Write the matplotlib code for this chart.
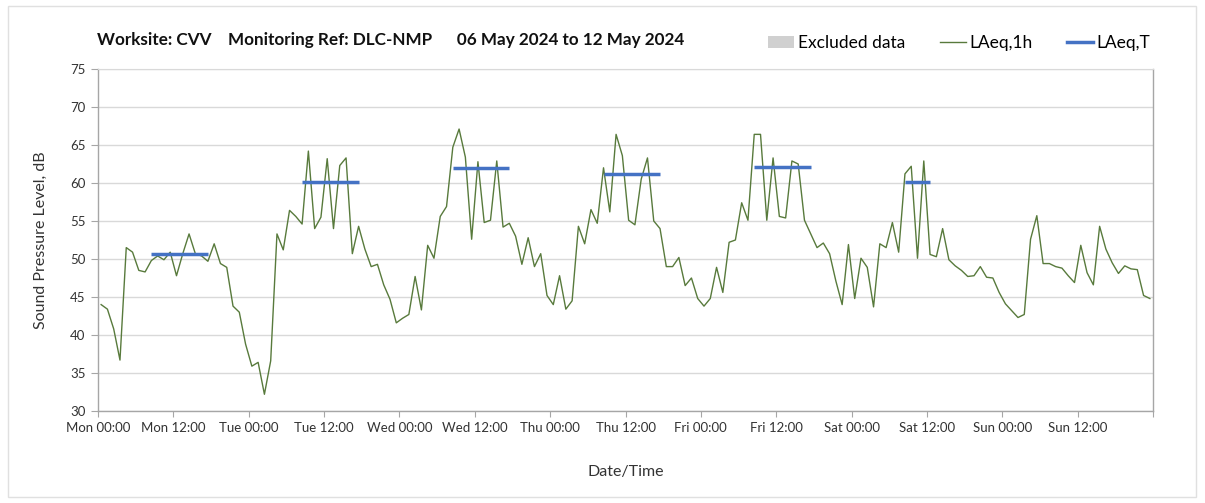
"""
 Weekly noise monitoring chart: hourly LAeq with daytime LAeq,T bars.
"""

import numpy as np
import matplotlib
matplotlib.use("Agg")
import matplotlib.pyplot as plt
from matplotlib.patches import Patch, Rectangle
from matplotlib.lines import Line2D

plt.rcParams['font.family'] = ['Lato', 'DejaVu Sans']

# hourly LAeq,1h values, Mon 00:00 .. Sun 23:00
laeq_mon = [44.0, 43.4, 40.8, 36.7, 51.5, 50.9, 48.5, 48.3, 49.8, 50.4, 49.9, 50.9,
            47.8, 50.7, 53.3, 50.7, 50.4, 49.7, 52.0, 49.4, 48.9, 43.8, 43.0, 38.8]
laeq_tue = [35.9, 36.4, 32.2, 36.6, 53.3, 51.2, 56.4, 55.6, 54.6, 64.2, 54.0, 55.5,
            63.2, 54.0, 62.3, 63.3, 50.7, 54.3, 51.3, 49.0, 49.3, 46.6, 44.7, 41.6]
laeq_wed = [42.2, 42.7, 47.7, 43.3, 51.8, 50.1, 55.6, 56.9, 64.7, 67.1, 63.4, 52.6,
            62.8, 54.8, 55.1, 62.9, 54.2, 54.7, 53.0, 49.3, 52.8, 49.0, 50.7, 45.2]
laeq_thu = [44.0, 47.8, 43.4, 44.5, 54.3, 52.0, 56.5, 54.7, 62.0, 56.2, 66.4, 63.6,
            55.1, 54.5, 60.5, 63.3, 55.0, 54.0, 49.0, 49.0, 50.2, 46.5, 47.5, 44.8]
laeq_fri = [43.8, 44.8, 48.9, 45.6, 52.2, 52.5, 57.4, 55.1, 66.4, 66.4, 55.1, 63.3,
            55.6, 55.4, 62.9, 62.5, 55.1, 53.3, 51.5, 52.1, 50.7, 47.1, 44.0, 51.9]
laeq_sat = [44.8, 50.1, 48.9, 43.7, 52.0, 51.5, 54.8, 50.9, 61.2, 62.2, 50.1, 62.9,
            50.6, 50.3, 54.0, 49.9, 49.1, 48.5, 47.7, 47.8, 49.0, 47.6, 47.5, 45.6]
laeq_sun = [44.1, 43.2, 42.3, 42.7, 52.6, 55.7, 49.4, 49.4, 49.0, 48.8, 47.8, 46.9,
            51.8, 48.2, 46.6, 54.3, 51.3, 49.5, 48.1, 49.1, 48.7, 48.6, 45.2, 44.8]

# daytime periods (hour index within the week) and their LAeq,T
period_start = [8, 32, 56, 80, 104, 128]
period_end = [17, 41, 65, 89, 113, 132]
laeq_t = [50.6, 60.1, 62.0, 61.2, 62.1, 60.1]

tick_labels = ["Mon 00:00", "Mon 12:00", "Tue 00:00", "Tue 12:00", "Wed 00:00",
               "Wed 12:00", "Thu 00:00", "Thu 12:00", "Fri 00:00", "Fri 12:00",
               "Sat 00:00", "Sat 12:00", "Sun 00:00", "Sun 12:00", ""]

laeq_1h = np.array(laeq_mon + laeq_tue + laeq_wed + laeq_thu + laeq_fri + laeq_sat + laeq_sun)
hours = np.arange(len(laeq_1h)) + 0.5

green = '#587a3c'
blue = '#4472c4'
grey = '#a6a6a6'

fig = plt.figure(figsize=(12.05, 5.03), dpi=100)
ax = fig.add_axes([98 / 1205, 1 - 411 / 503, (1153 - 98) / 1205, (411 - 69) / 503])

ax.plot(hours, laeq_1h, color=green, lw=1.0, zorder=3)
for s, e, lv in zip(period_start, period_end, laeq_t):
    ax.plot([hours[s], hours[e]], [lv, lv], color=blue, lw=2.5,
            solid_capstyle='butt', zorder=4)

ax.set_xlim(0, 168)
ax.set_ylim(30, 75)
ax.set_xticks(np.arange(0, 169, 12))
ax.set_xticklabels(tick_labels)
ax.set_yticks(np.arange(30, 76, 5))

# day gridlines every 24 h, level gridlines every 5 dB
ax.set_xticks(np.arange(0, 169, 24), minor=True)
ax.grid(False)
ax.yaxis.grid(True, color='#d9d9d9', lw=1.0)
ax.xaxis.grid(True, which='minor', color='#d9d9d9', lw=1.0)
ax.set_axisbelow(True)

for side in ['left', 'bottom', 'right']:
    ax.spines[side].set_color(grey)
    ax.spines[side].set_linewidth(1.0)
ax.spines['top'].set_color('#d9d9d9')

ax.tick_params(axis='x', which='major', length=4, color=grey, labelsize=9.5,
               labelcolor='#333333', pad=4)
ax.tick_params(axis='x', which='minor', length=0)
ax.tick_params(axis='y', length=5, color=grey, labelsize=9.5, labelcolor='#333333', pad=4)

ax.set_ylabel("Sound Pressure Level, dB", fontsize=11.5, color='#333333', labelpad=16)
ax.set_xlabel("Date/Time", fontsize=11.5, color='#333333', labelpad=22)

fig.text(97 / 1205, 1 - 40 / 503,
         "Worksite: CVV    Monitoring Ref: DLC-NMP      06 May 2024 to 12 May 2024",
         fontsize=12.3, fontweight='bold', color='#111111', va='center', ha='left')

handles = [Patch(facecolor='#d0d0d0', edgecolor='none'),
           Line2D([0], [0], color=green, lw=1.0),
           Line2D([0], [0], color=blue, lw=2.5)]
fig.legend(handles, ["Excluded data", "LAeq,1h", "LAeq,T"], loc='center right',
           bbox_to_anchor=(1166 / 1205, 1 - 43 / 503), ncol=3, frameon=False,
           fontsize=12.5, handlelength=1.5, handletextpad=0.2, columnspacing=2.0)

# faint frame around the whole chart
fig.patches.append(Rectangle((8 / 1205, 6 / 503), 1188 / 1205, 491 / 503,
                             transform=fig.transFigure, fill=False,
                             edgecolor='#e0e0e0', lw=1.0))

fig.savefig("out.png", dpi=100)
